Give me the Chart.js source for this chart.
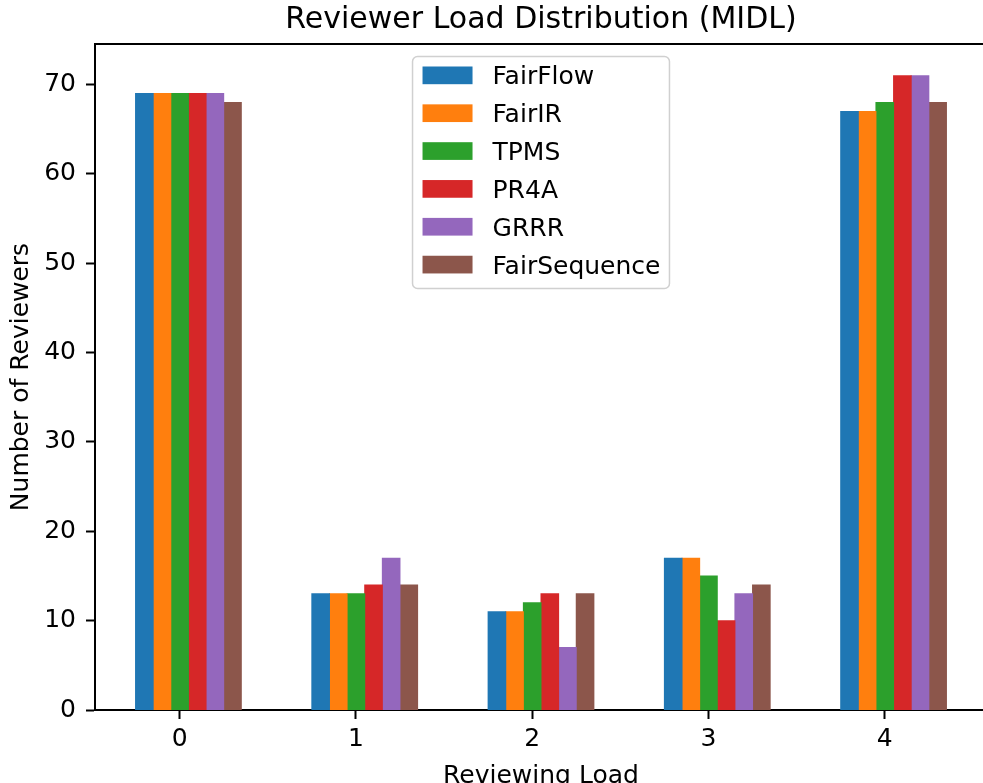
<!DOCTYPE html>
<html>
<head>
<meta charset="utf-8">
<script src="https://cdn.jsdelivr.net/npm/chart.js@4.4.1/dist/chart.umd.min.js"></script>
<style>
  html, body { margin: 0; padding: 0; overflow: hidden; background: #fff; }
  canvas { display: block; }
</style>
</head>
<body>
<canvas id="myChart" width="1000" height="800"></canvas>
<script>
// data block
const loads = [0, 1, 2, 3, 4]
const yTicks = [0, 10, 20, 30, 40, 50, 60, 70]
const fairFlow = [69, 13, 11, 17, 67]
const fairIR = [69, 13, 11, 17, 67]
const tpms = [69, 13, 12, 15, 68]
const pr4a = [69, 14, 13, 10, 71]
const grrr = [69, 17, 7, 13, 71]
const fairSequence = [68, 14, 13, 14, 68]

const series = [
    ['FairFlow', fairFlow, '#1f77b4'],
    ['FairIR', fairIR, '#ff7f0e'],
    ['TPMS', tpms, '#2ca02c'],
    ['PR4A', pr4a, '#d62728'],
    ['GRRR', grrr, '#9467bd'],
    ['FairSequence', fairSequence, '#8c564b'],
]

// matplotlib put the bars at x + i*0.1 - 0.2, so the group sits a bit right of the tick
const GROUP_SHIFT = 0.05

Chart.defaults.font.family = '"DejaVu Sans", sans-serif'
Chart.defaults.color = '#000'

// legend box drawn inside the plot like matplotlib's
const legendBox = {
    id: 'legendBox',
    afterDraw(chart) {
        const { ctx, chartArea } = chart
        const sets = chart.data.datasets
        ctx.save()
        ctx.font = '25px "DejaVu Sans"'
        const textW = Math.max(...sets.map(d => ctx.measureText(d.label).width))
        const w = 10 + 50 + 20 + textW + 9
        const h = 10 + (sets.length - 1) * 37.85 + 17.7 + 15
        const x = (chartArea.left + chartArea.right) / 2 - w / 2
        const y = chartArea.top + 12.5
        ctx.beginPath()
        ctx.roundRect(x, y, w, h, 5)
        ctx.fillStyle = 'rgba(255,255,255,0.8)'
        ctx.fill()
        ctx.strokeStyle = '#d0d0d0'
        ctx.lineWidth = 1.5
        ctx.stroke()
        sets.forEach((d, i) => {
            const sy = y + 10 + i * 37.85
            ctx.fillStyle = d.backgroundColor
            ctx.fillRect(x + 10, sy, 50, 17.7)
            ctx.fillStyle = '#000'
            ctx.textBaseline = 'alphabetic'
            ctx.fillText(d.label, x + 80, sy + 8.85 + 9.1)
        })
        ctx.restore()
    }
}

const data = {
    datasets: series.map(([label, values, color]) => ({
        label: label,
        data: loads.map((load, i) => ({ x: load + GROUP_SHIFT, y: values[i] })),
        backgroundColor: color,
        borderWidth: 0,
        inflateAmount: 0.5,
        categoryPercentage: 0.6,
        barPercentage: 1.0
    }))
}

const config = {
    type: 'bar',
    data,
    options: {
        responsive: false,
        animation: false,
        devicePixelRatio: 1,
        layout: { padding: { left: 0, right: 13, top: 0, bottom: 0 } },
        scales: {
            x: {
                type: 'linear',
                position: 'bottom',
                offset: false,
                min: -0.48,
                max: 4.58,
                afterBuildTicks: scale => { scale.ticks = loads.map(v => ({ value: v })) },
                afterFit: scale => { scale.height = 90 },
                grid: { offset: false, drawOnChartArea: false, drawTicks: true, tickLength: 9, tickWidth: 2, tickColor: '#000' },
                border: { display: true, color: '#000', width: 2 },
                ticks: { font: { size: 25 }, padding: 5, maxRotation: 0, autoSkip: false, callback: v => String(v) },
                title: { display: true, text: 'Reviewing Load', font: { size: 25 }, padding: { top: 0, bottom: 9 } }
            },
            xTop: {
                type: 'linear',
                position: 'top',
                offset: false,
                min: -0.48,
                max: 4.58,
                afterFit: scale => { scale.height = 0 },
                grid: { offset: false, drawOnChartArea: false, drawTicks: false },
                border: { display: true, color: '#000', width: 2 },
                ticks: { display: false }
            },
            y: {
                min: 0,
                max: 74.55,
                afterBuildTicks: scale => { scale.ticks = yTicks.map(v => ({ value: v })) },
                afterFit: scale => { scale.width = 95 },
                grid: { drawOnChartArea: false, drawTicks: true, tickLength: 9, tickWidth: 2, tickColor: '#000' },
                border: { display: true, color: '#000', width: 2 },
                ticks: { font: { size: 25 }, padding: 10 },
                title: { display: true, text: 'Number of Reviewers', font: { size: 25 }, padding: { top: 6, bottom: 0 } }
            }
        },
        plugins: {
            legend: { display: false },
            tooltip: { enabled: false },
            title: {
                display: true,
                text: 'Reviewer Load Distribution (MIDL)',
                fullSize: false,
                font: { size: 30, weight: 'normal' },
                padding: { top: 2, bottom: 6 }
            }
        }
    },
    plugins: [legendBox]
}

// render block
const myChart = new Chart(document.getElementById('myChart'), config)
</script>
</body>
</html>
